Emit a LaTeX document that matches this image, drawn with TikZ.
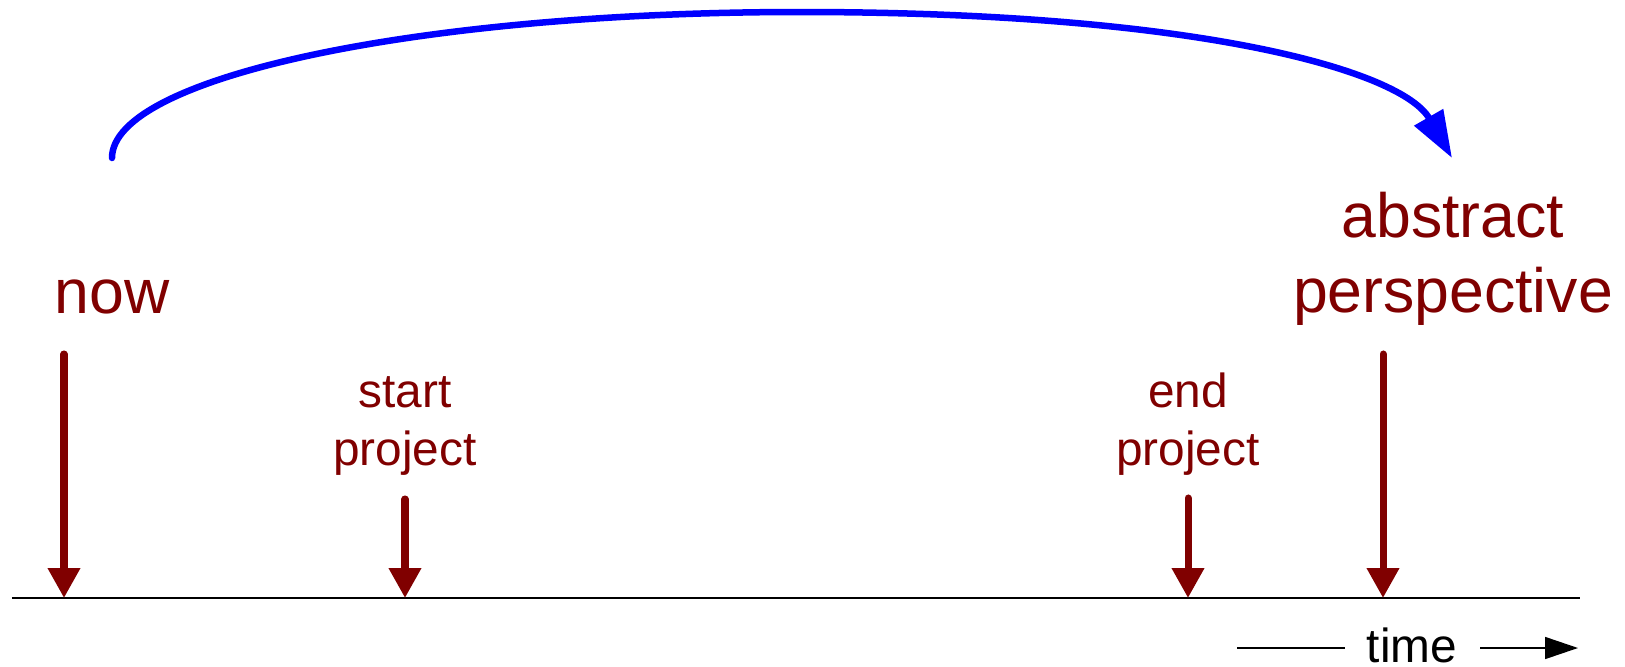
\documentclass[tikz,border=0pt]{standalone}
\usepackage{fontspec}
\setmainfont{Liberation Sans}
\usetikzlibrary{arrows.meta}
\definecolor{labelred}{RGB}{128,0,0}
\definecolor{arcblue}{RGB}{0,0,255}

\begin{document}
\begin{tikzpicture}[
    big/.style={text=labelred,font=\fontsize{17.8}{21.3}\selectfont,align=center,anchor=base,inner sep=0pt},
    small/.style={text=labelred,font=\fontsize{13.6}{16.5}\selectfont,align=center,anchor=base,inner sep=0pt},
    tick/.style={draw=labelred,line width=2pt,line cap=round,-{Triangle[length=3mm,width=3.1mm]}}]
  \useasboundingbox (0,-0.68) rectangle (16.25,5.98);
  % time axis
  \coordinate (axisL) at (0.12,0);
  \coordinate (axisR) at (15.80,0);
  \draw[line width=0.65pt] (axisL) -- (axisR);
  % labels (base = last line)
  \node[big] (now) at (1.12,2.85) {now};
  \node[big] (abstract) at (14.53,2.86) {abstract\\perspective};
  \node[small] (start) at (4.05,1.33) {start\\project};
  \node[small] (end) at (11.88,1.33) {end\\project};
  \node[inner sep=0pt,anchor=base,text depth=0pt,font=\fontsize{13.6}{16.5}\selectfont] (time) at (14.12,-0.64) {time};
  % moments on the axis
  \coordinate (nowtop) at (0.64,2.44);   \coordinate (nowpt) at (0.64,0);
  \coordinate (starttop) at (4.05,0.99); \coordinate (startpt) at (4.05,0);
  \coordinate (endtop) at (11.88,1.00);  \coordinate (endpt) at (11.88,0);
  \coordinate (abstop) at (13.83,2.44);  \coordinate (abspt) at (13.83,0);
  \draw[tick] (nowtop) -- (nowpt);
  \draw[tick] (starttop) -- (startpt);
  \draw[tick] (endtop) -- (endpt);
  \draw[tick] (abstop) -- (abspt);
  % time direction
  \coordinate (tlineL) at (12.37,-0.50);
  \coordinate (tlineR) at (13.45,-0.50);
  \coordinate (tarrowL) at (14.80,-0.50);
  \coordinate (tarrowR) at (15.78,-0.50);
  \draw[line width=0.45pt] (tlineL) -- (tlineR);
  \draw[line width=0.45pt,-{Triangle[length=3.3mm,width=2.2mm]}] (tarrowL) -- (tarrowR);
  % jump to the abstract view
  \coordinate (arcstart) at (1.12,4.40);
  \coordinate (arcend) at (14.52,4.40);
  \draw[arcblue,line width=1.85pt,line cap=round,-{Triangle[length=4.7mm,width=3.2mm]}]
    (arcstart) .. controls (1.12,5.21) and (4.20,5.86) .. (8.00,5.86)
    .. controls (12.00,5.86) and (14.02,5.27) .. (arcend);
\end{tikzpicture}
\end{document}
